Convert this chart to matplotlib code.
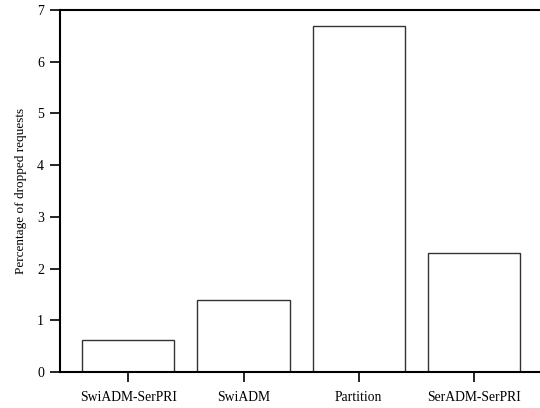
import matplotlib
matplotlib.use("Agg")
import matplotlib.pyplot as plt

plt.rcParams['font.family'] = ['Liberation Serif', 'DejaVu Serif']

# data
methods = ["SwiADM-SerPRI", "SwiADM", "Partition", "SerADM-SerPRI"]
dropped = [0.61, 1.4, 6.7, 2.3]

fig = plt.figure(figsize=(5.4, 4.08), dpi=100)
ax = fig.add_axes([60/540, 36/408, 480/540, 362/408])

pos = list(range(len(methods)))
ax.bar(pos, dropped, width=0.8, color="white", edgecolor="#333333", linewidth=1.0)

ax.set_xlim(-0.592, 3.572)
ax.set_ylim(0, 7)
ax.set_xticks(pos)
ax.set_xticklabels(methods, fontsize=9.8)
ax.set_yticks(range(8))
ax.tick_params(axis='y', labelsize=10, direction='out', length=7.5, width=1.2, pad=4)
ax.tick_params(axis='x', direction='out', length=7.5, width=1.2, pad=6)
ax.set_ylabel("Percentage of dropped requests", fontsize=9.5, labelpad=7)

for s in ["left", "bottom", "top"]:
    ax.spines[s].set_linewidth(1.5)
ax.spines["right"].set_visible(False)

fig.savefig("out.png", dpi=100)
